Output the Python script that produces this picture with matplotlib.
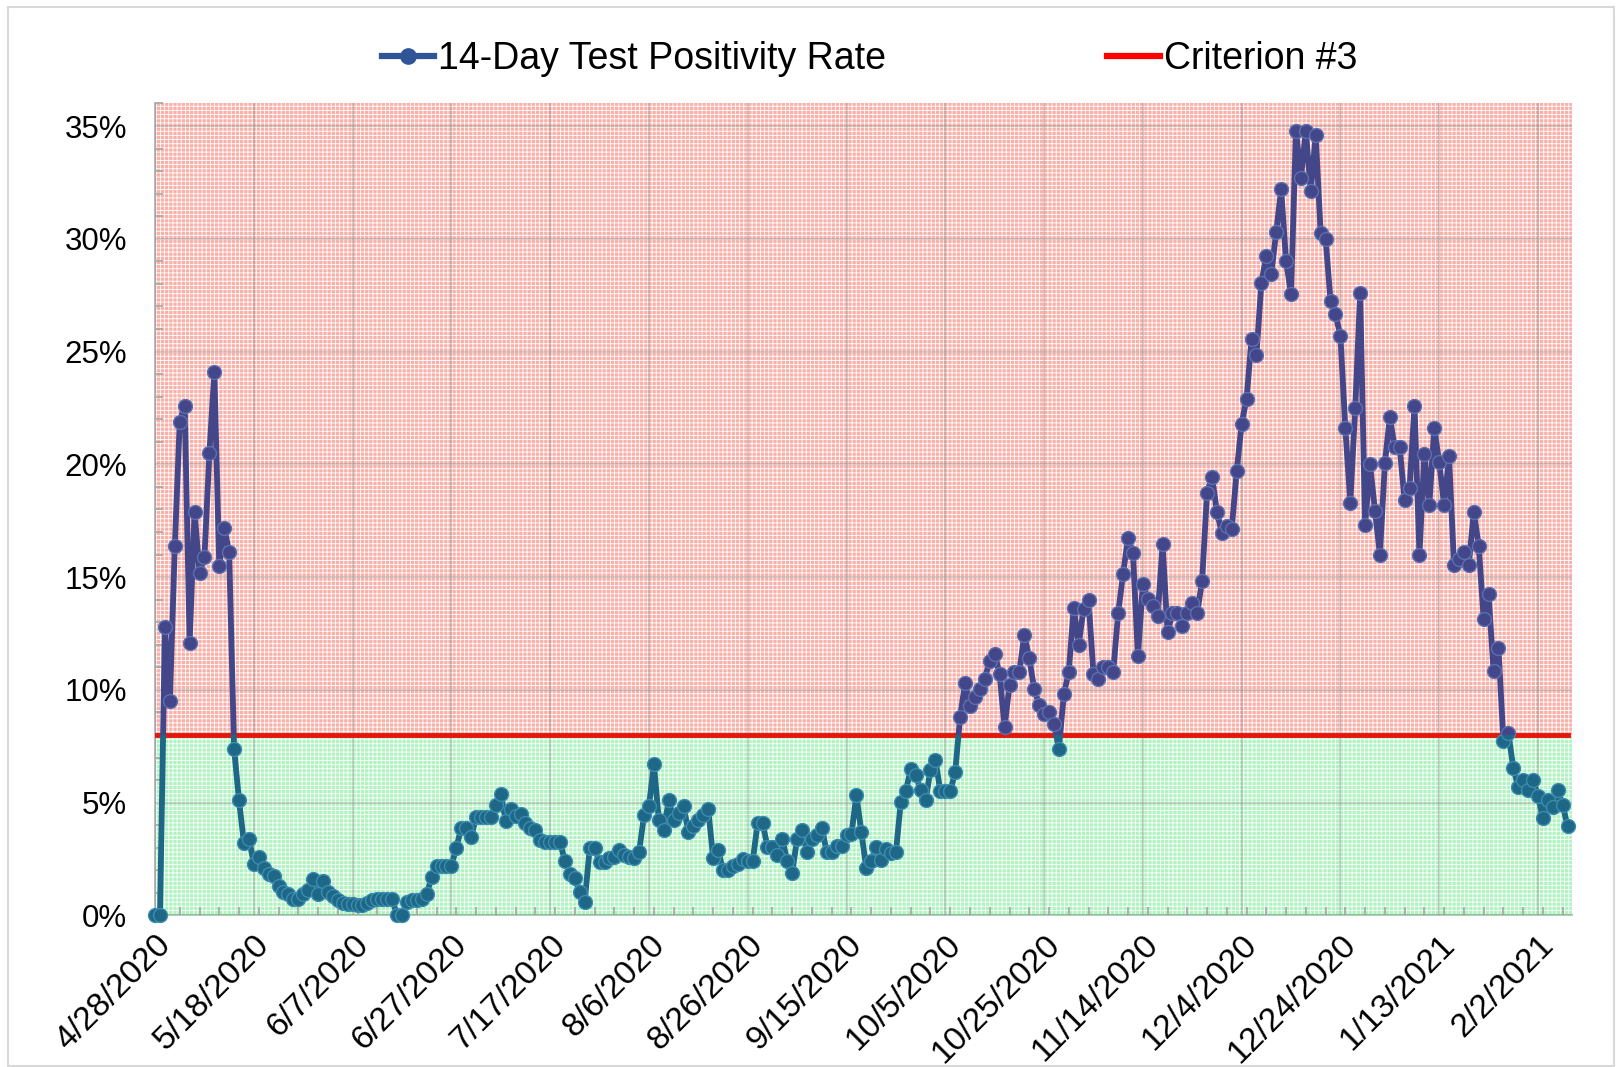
"""
14-day test positivity rate vs criterion #3
"""
import matplotlib

matplotlib.use("Agg")
import matplotlib.pyplot as plt
import pandas as pd
from matplotlib.lines import Line2D
from matplotlib.patches import Rectangle
from matplotlib.ticker import MultipleLocator, PercentFormatter

plt.rcParams["font.family"] = ["Liberation Sans", "DejaVu Sans"]
plt.rcParams["hatch.linewidth"] = 0.6

start_date = "2020-04-28"

# daily 14-day positivity, percent (one value per day from start_date)
rate = [
    0.0, 0.0, 12.8, 9.5, 16.4, 21.9, 22.6, 12.1, 17.9, 15.2,
    15.9, 20.5, 24.1, 15.5, 17.2, 16.1, 7.4, 5.1, 3.2, 3.4,
    2.3, 2.6, 2.1, 1.85, 1.75, 1.3, 1.05, 0.95, 0.75, 0.75,
    0.95, 1.15, 1.6, 0.95, 1.55, 1.05, 0.85, 0.7, 0.55, 0.5,
    0.5, 0.45, 0.45, 0.55, 0.7, 0.75, 0.75, 0.75, 0.75, 0.0,
    0.0, 0.6, 0.7, 0.7, 0.75, 0.95, 1.7, 2.2, 2.2, 2.2,
    2.2, 3.0, 3.9, 3.9, 3.5, 4.35, 4.35, 4.35, 4.35, 4.9,
    5.4, 4.2, 4.7, 4.4, 4.5, 4.1, 3.9, 3.8, 3.35, 3.25,
    3.25, 3.25, 3.25, 2.4, 1.85, 1.65, 1.05, 0.6, 3.0, 3.0,
    2.35, 2.35, 2.55, 2.6, 2.9, 2.7, 2.6, 2.55, 2.8, 4.45,
    4.85, 6.7, 4.25, 3.8, 5.1, 4.25, 4.55, 4.85, 3.7, 3.95,
    4.25, 4.45, 4.7, 2.55, 2.9, 2.0, 2.0, 2.2, 2.3, 2.5,
    2.4, 2.4, 4.1, 4.1, 3.05, 3.05, 2.7, 3.4, 2.4, 1.9,
    3.4, 3.8, 2.8, 3.4, 3.55, 3.9, 2.8, 2.8, 3.1, 3.1,
    3.55, 3.6, 5.35, 3.7, 2.1, 2.4, 3.05, 2.45, 2.95, 2.75,
    2.8, 5.05, 5.5, 6.5, 6.25, 5.55, 5.1, 6.45, 6.9, 5.5,
    5.5, 5.5, 6.35, 8.8, 10.3, 9.3, 9.7, 10.05, 10.5, 11.3,
    11.6, 10.7, 8.35, 10.2, 10.8, 10.8, 12.45, 11.4, 10.05, 9.35,
    8.95, 9.0, 8.5, 7.4, 9.8, 10.8, 13.65, 12.0, 13.6, 14.0,
    10.7, 10.5, 11.0, 11.0, 10.8, 13.4, 15.15, 16.75, 16.05, 11.5,
    14.7, 14.05, 13.7, 13.3, 16.45, 12.55, 13.4, 13.4, 12.85, 13.4,
    13.85, 13.4, 14.85, 18.75, 19.45, 17.9, 16.95, 17.25, 17.15, 19.7,
    21.8, 22.9, 25.55, 24.85, 28.05, 29.25, 28.45, 30.3, 32.2, 29.0,
    27.55, 34.8, 32.7, 34.8, 32.1, 34.6, 30.25, 30.0, 27.25, 26.65,
    25.7, 21.6, 18.3, 22.5, 27.6, 17.3, 20.0, 17.95, 16.0, 20.05,
    22.1, 20.75, 20.75, 18.4, 18.95, 22.6, 16.0, 20.45, 18.2, 21.6,
    20.1, 18.2, 20.35, 15.55, 15.8, 16.1, 15.55, 17.9, 16.4, 13.15,
    14.25, 10.85, 11.85, 7.75, 8.1, 6.55, 5.7, 6.0, 5.55, 6.0,
    5.3, 4.3, 5.1, 4.8, 5.55, 4.9, 3.95,
]
criterion = 8.0

tick_labels = [
    "4/28/2020", "5/18/2020", "6/7/2020", "6/27/2020", "7/17/2020",
    "8/6/2020", "8/26/2020", "9/15/2020", "10/5/2020", "10/25/2020",
    "11/14/2020", "12/4/2020", "12/24/2020", "1/13/2021", "2/2/2021",
]
series_labels = ["14-Day Test Positivity Rate", "Criterion #3"]

dates = pd.date_range(start_date, periods=len(rate), freq="D")
tick_dates = pd.date_range(start_date, periods=len(tick_labels), freq="20D")

fig = plt.figure(figsize=(16.22, 10.67), dpi=100)
ax = fig.add_axes([0.0956, 0.142, 0.8734, 0.761])

y_top = 36
ax.set_xlim(dates[0], dates[-1] + pd.Timedelta(hours=20))
ax.set_ylim(0, y_top)

# shaded zones with a fine dotted texture
ax.axhspan(criterion, y_top, facecolor="#f9b0a9", edgecolor="white",
           hatch="++++", linewidth=0, zorder=0)
ax.axhspan(0, criterion, facecolor="#b0f3c1", edgecolor="white",
           hatch="++++", linewidth=0, zorder=0)

ax.grid(True, which="major", color="#8c8c8c", alpha=0.4, linewidth=1.3, zorder=1)
ax.set_axisbelow(False)

ax.plot(dates, [criterion] * len(dates), color="#e3170a", linewidth=3.5, zorder=3)

# the series takes a purple cast over the red zone and a teal cast over the green one
zone_colors = [
    (criterion, y_top + 1 - criterion, "#434689", "#5b70b2"),
    (-1, criterion + 1, "#1e6786", "#3a8db0"),
]
for y0, height, face, edge in zone_colors:
    clip = Rectangle((-0.01, y0), 1.02, height, transform=ax.get_yaxis_transform())
    line, = ax.plot(dates, rate, color=face, linewidth=4.2,
                    marker="o", markersize=10, markerfacecolor=face,
                    markeredgecolor=edge, markeredgewidth=1.0, zorder=4)
    line.set_clip_path(clip)

ax.set_xticks(tick_dates)
ax.set_xticklabels(tick_labels, rotation=45, ha="right", rotation_mode="anchor")
ax.xaxis.set_minor_locator(matplotlib.dates.DayLocator(interval=4))
ax.yaxis.set_major_locator(MultipleLocator(5))
ax.yaxis.set_minor_locator(MultipleLocator(1))
ax.yaxis.set_major_formatter(PercentFormatter(xmax=100, decimals=0))
ax.tick_params(axis="both", which="both", direction="in", color="#a6a6a6",
               labelcolor="black")
ax.tick_params(axis="both", which="major", length=0)
ax.tick_params(axis="both", which="minor", length=6, width=1.2)
ax.tick_params(axis="x", which="major", labelsize=24, pad=10)
ax.tick_params(axis="y", which="major", labelsize=22.5, pad=20)

for side in ["top", "right"]:
    ax.spines[side].set_visible(False)
ax.spines["left"].set_color("#b3b3b3")
ax.spines["bottom"].set_color("#9fcfa8")
ax.spines["left"].set_linewidth(1.3)
ax.spines["bottom"].set_linewidth(1.3)

handles = [
    Line2D([0, 1, 2], [0, 0, 0], color="#2f5597", linewidth=4.5, marker="o",
           markersize=11, markerfacecolor="#2f5597", markeredgecolor="#2f5597",
           markevery=[1]),
    Line2D([], [], color="red", linewidth=4.5),
]
fig.legend(handles, series_labels, loc="center", bbox_to_anchor=(0.536, 0.945),
           ncol=2, frameon=False, fontsize=27, handlelength=1.4,
           handletextpad=0.1, columnspacing=5.9)

fig.patches.append(Rectangle((8 / 1622, 1 / 1067), 1606 / 1622, 1059 / 1067,
                             transform=fig.transFigure, fill=False,
                             edgecolor="#d9d9d9", linewidth=1.5))

fig.savefig("out.png", dpi=100)
